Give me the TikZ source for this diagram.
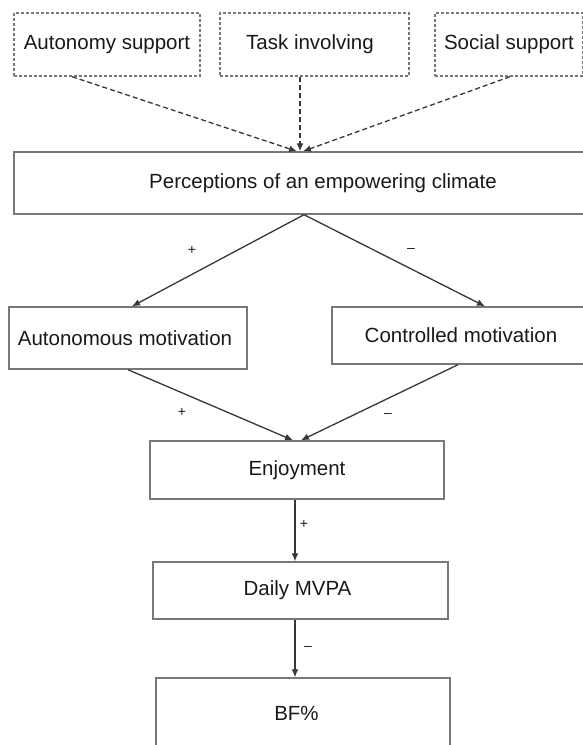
\documentclass[tikz,border=0pt]{standalone}
\usepackage{fontspec}
\setmainfont{Liberation Sans}
\usetikzlibrary{arrows.meta,calc}
\definecolor{boxgray}{RGB}{120,120,120}
\definecolor{linegray}{RGB}{55,55,55}
\definecolor{txt}{RGB}{25,25,25}
\begin{document}
\begin{tikzpicture}[x=0.5pt,y=-0.5pt,
  box/.style={draw=boxgray,line width=0.7pt,inner sep=0pt,text=txt,
    font=\fontsize{10.25}{12}\selectfont},
  dbox/.style={box,dash pattern=on 1.5pt off 1pt},
  arr/.style={draw=linegray,line width=0.65pt,-{Latex[length=4pt,width=3.4pt]}},
  darr/.style={arr,dash pattern=on 2.5pt off 1.5pt},
  sign/.style={text=txt,inner sep=0pt,font=\fontsize{7}{8}\selectfont}]
\useasboundingbox (0,0) rectangle (583,745);
\clip (0,0) rectangle (583,745);
% nodes
\node[dbox,minimum width=93pt,minimum height=31.5pt] (aut) at (107,44.5) {Autonomy support};
\node[dbox,minimum width=94.5pt,minimum height=31.5pt] (task) at (314.5,44.5) {\hspace*{-4.5pt}Task involving};
\node[dbox,minimum width=74pt,minimum height=31.5pt] (soc) at (509,44.5) {Social support};
\node[box,minimum width=309pt,minimum height=31pt] (perc) at (323,183) {Perceptions of an empowering climate};
\node[box,minimum width=119pt,minimum height=31pt] (autm) at (128,338) {\hspace*{-3pt}Autonomous motivation};
\node[box,minimum width=129pt,minimum height=28.5pt] (ctrl) at (461,335.5) {Controlled motivation};
\node[box,minimum width=147pt,minimum height=29pt] (enj) at (297,470) {Enjoyment};
\node[box,minimum width=147.5pt,minimum height=28.5pt] (mvpa) at (300.5,590.5) {\hspace*{-3pt}Daily MVPA};
\node[box,minimum width=147pt,minimum height=35pt] (bf) at (303,713) {\hspace*{-6.5pt}BF\%};
% dashed connectors
\draw[darr] ($(aut.south)+(-35,0)$) -- ($(perc.north)+(-26,0)$);
\draw[darr] ($(task.south)+(-14.5,0)$) -- ($(perc.north)+(-23,0)$);
\draw[darr] ($(soc.south)+(1,0)$) -- ($(perc.north)+(-20,0)$);
% solid connectors
\draw[arr] ($(perc.south)+(-19,0)$) -- ($(autm.north)+(4,0)$);
\draw[arr] ($(perc.south)+(-19,0)$) -- ($(ctrl.north)+(24,0)$);
\draw[arr] (autm.south) -- ($(enj.north)+(-4,0)$);
\draw[arr] ($(ctrl.south)+(-3,0)$) -- ($(enj.north)+(4,0)$);
\draw[arr] ($(enj.south)+(-2,0)$) -- ($(mvpa.north)+(-5.5,0)$);
\draw[arr] ($(mvpa.south)+(-5.5,0)$) -- ($(bf.north)+(-8,0)$);
% signs
\node[sign] (s1) at (192,250) {+};
\node[sign] (s2) at (411,250) {–};
\node[sign] (s3) at (182,412) {+};
\node[sign] (s4) at (388,415) {–};
\node[sign] (s5) at (304,524) {+};
\node[sign] (s6) at (308,648) {–};
\end{tikzpicture}
\end{document}
